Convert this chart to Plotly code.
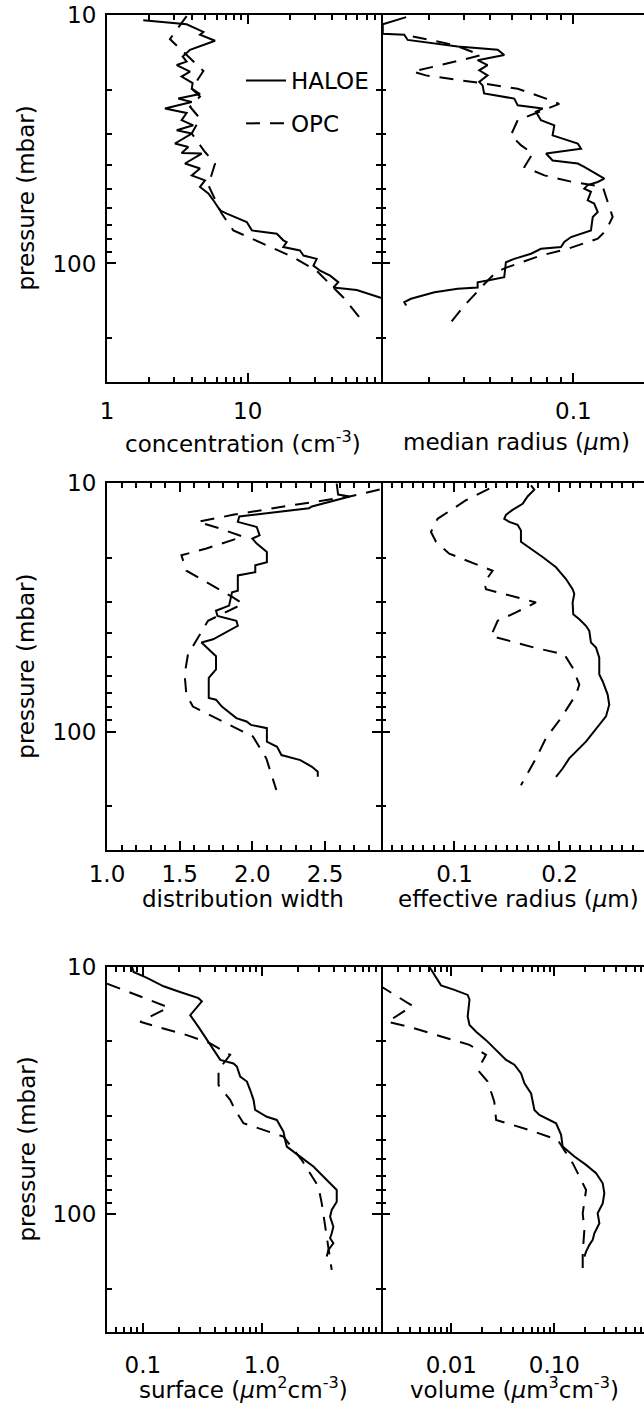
import numpy as np
import plotly.graph_objects as go

# ---------------- data (pressure in mbar) ----------------
conc_haloe_p = [10.5, 10.9, 11.7, 12.0, 12.7, 13.8, 14.7, 15.4, 15.9, 16.9, 17.7, 18.8, 19.8, 20.8, 21.7,
                22.4, 23.8, 24.8, 26.5, 27.8, 29.1, 30.0, 32.9, 34.0, 35.9, 36.1, 39.6, 41.5, 44.2, 46.3,
                49.2, 52.3, 55.7, 61.1, 63.0, 68.1, 73.6, 74.8, 75.9, 80.7, 82.0, 85.9, 88.6, 92.9, 95.8,
                102, 107, 112, 119, 125, 128, 137, 142]
conc_haloe_v = [1.81, 3.68, 4.84, 4.58, 5.86, 3.89, 3.45, 3.68, 3.13, 3.89, 3.39, 4.06, 4.0, 4.58, 3.21,
                4.0, 2.58, 3.68, 3.39, 4.1, 3.13, 4.0, 3.04, 3.78, 3.39, 4.71, 3.58, 4.58, 4.0, 4.97,
                4.58, 5.25, 5.7, 6.35, 7.1, 9.84, 10.7, 13.6, 16.1, 17.9, 18.9, 17.9, 23.5, 24.9, 30.9,
                29.3, 32.7, 38.5, 44.0, 40.6, 59.5, 87.0, 110.0]
conc_opc_p = [10.1, 12.5, 16.8, 19.8, 21.3, 23.4, 26.1, 30.0, 35.6, 39.6, 48.4, 57.4, 63.0, 73.6, 82.0,
              94.4, 107, 125, 137, 172.5]
conc_opc_v = [3.68, 2.80, 4.84, 4.0, 4.58, 3.89, 4.58, 4.0, 4.97, 5.86, 5.25, 6.01, 6.53, 7.9, 12.2,
              21.1, 30.9, 40.6, 47.8, 66.4]

rmed_haloe_p = [10.2, 10.9, 11.9, 12.0, 12.6, 13.4, 13.8, 14.5, 15.2, 15.9, 16.7, 17.5, 18.6, 19.2, 20.7,
                21.7, 23.1, 23.8, 24.5, 26.5, 27.8, 30.5, 32.9, 34.5, 36.1, 38.5, 39.6, 40.9, 45.6, 47.0,
                48.4, 50.0, 51.5, 55.7, 57.4, 62.1, 65.0, 73.6, 78.3, 82.0, 85.9, 87.3, 91.4, 95.8, 98.9,
                113.5, 117, 119, 125, 126.5, 130.5, 138.7, 143.2, 147.6]
rmed_haloe_v = [0.0247, 0.0203, 0.0203, 0.0243, 0.0250, 0.0380, 0.0531, 0.0561, 0.0449, 0.0488, 0.0455,
                0.0488, 0.0455, 0.0468, 0.0474, 0.0610, 0.0628, 0.0774, 0.0731, 0.0763, 0.0853, 0.0841,
                0.1038, 0.1067, 0.0796, 0.0841, 0.1038, 0.1096, 0.1297, 0.1227, 0.1128, 0.1096, 0.1159,
                0.1128, 0.1191, 0.1227, 0.1177, 0.1159, 0.0981, 0.0927, 0.0902, 0.0763, 0.0702, 0.0610,
                0.0569, 0.0561, 0.0488, 0.0449, 0.0449, 0.0380, 0.0313, 0.0257, 0.0243, 0.0247]
rmed_opc_p = [12.2, 13.2, 14.5, 15.2, 16.9, 17.5, 18.8, 19.8, 21.7, 22.8, 26.5, 30.5, 33.4, 36.1, 40.9,
              44.2, 47.0, 49.2, 56.6, 65.0, 73.6, 79.5, 87.3, 92.9, 103.5, 108.4, 119, 147.6, 172.5]
rmed_opc_v = [0.0261, 0.0369, 0.0461, 0.0391, 0.0261, 0.0291, 0.0461, 0.0628, 0.0796, 0.0889, 0.0628,
              0.0593, 0.0645, 0.0712, 0.0664, 0.0785, 0.0995, 0.1280, 0.1334, 0.1390, 0.1315, 0.1227,
              0.0955, 0.0763, 0.0577, 0.0524, 0.0482, 0.0402, 0.0359]

width_haloe_p = [10.0, 11.1, 11.3, 12.4, 12.6, 13.6, 14.3, 15.0, 16.2, 16.7, 17.5, 18.9, 20.8, 21.4, 22.8,
                 23.5, 27.1, 27.5, 31.1, 32.6, 34.2, 35.8, 37.5, 42.5, 43.8, 49.7, 56.2, 60.8, 73.3, 74.4,
                 79.3, 85.6, 88.3, 91.1, 94.0, 96.9, 109.8, 115.2, 120.6, 124.4, 130.3, 138.7, 145.2, 152.1]
width_haloe_v = [2.58, 2.59, 2.67, 2.41, 2.39, 1.91, 1.90, 2.03, 2.05, 2.00, 2.03, 2.10, 2.10, 2.02, 2.02,
                 1.90, 1.90, 1.86, 1.84, 1.75, 1.76, 1.89, 1.90, 1.73, 1.65, 1.75, 1.75, 1.70, 1.70, 1.75,
                 1.79, 1.86, 1.89, 1.96, 1.99, 2.10, 2.10, 2.17, 2.19, 2.20, 2.33, 2.41, 2.45, 2.45]
width_opc_p = [10.6, 11.3, 12.3, 13.4, 14.3, 15.2, 16.4, 18.3, 19.5, 22.5, 28.8, 30.6, 35.8, 48.9, 58.9,
               71.0, 79.3, 89.8, 104.7, 128.3, 150, 172]
width_opc_v = [2.876, 2.669, 2.257, 1.867, 1.626, 1.775, 1.935, 1.684, 1.512, 1.546, 1.867, 1.935, 1.695,
               1.557, 1.534, 1.546, 1.591, 1.775, 2.004, 2.096, 2.131, 2.165]

reff_haloe_p = [10.2, 10.6, 11.3, 12.1, 12.8, 13.4, 13.9, 14.3, 14.7, 15.5, 17.2, 18.1, 19.8, 21.8, 24.3,
                26.7, 27.9, 30.2, 33.7, 35.3, 37.5, 39.3, 43.8, 45.9, 50.4, 58.9, 62.7, 71.0, 78.0, 86.9,
                94.0, 109.8, 128.3, 140.9, 152.1]
reff_haloe_v = [0.1729, 0.1760, 0.1696, 0.1649, 0.1553, 0.1490, 0.1474, 0.1522, 0.1601, 0.1633, 0.1633,
                0.1712, 0.1839, 0.1967, 0.2062, 0.2125, 0.2141, 0.2125, 0.2131, 0.2189, 0.2252, 0.2284,
                0.2300, 0.2348, 0.2379, 0.2379, 0.2411, 0.2459, 0.2474, 0.2443, 0.2379, 0.2252, 0.2093,
                0.2030, 0.1967]
reff_opc_p = [10.5, 11.7, 13.9, 15.7, 17.2, 19.2, 22.5, 25.1, 26.7, 28.8, 30.2, 33.1, 35.8, 41.2, 45.9,
              48.9, 55.3, 64.7, 71.0, 88.3, 106.4, 128.3, 164.4]
reff_opc_v = [0.1331, 0.1110, 0.0839, 0.0776, 0.0824, 0.0950, 0.1363, 0.1284, 0.1300, 0.1601, 0.1776,
              0.1586, 0.1411, 0.1348, 0.1760, 0.2046, 0.2125, 0.2189, 0.2157, 0.2014, 0.1871, 0.1776,
              0.1633]

surf_haloe_p = [10.0, 10.5, 11.1, 12.0, 12.6, 13.4, 13.8, 15.7, 17.5, 19.2, 20.7, 23.1, 23.8, 24.6, 25.3,
                27.8, 29.1, 31.5, 34.5, 37.9, 40.4, 41.6, 46.4, 50.1, 53.3, 58.5, 64.2, 68.3, 75.0, 79.8,
                89.0, 96.1, 102.3, 112.3, 119.4, 125.0, 131.0, 139.4, 148.3]
surf_haloe_v = [0.0811, 0.0836, 0.1083, 0.1493, 0.1995, 0.293, 0.313, 0.250, 0.293, 0.334, 0.368, 0.432,
                0.447, 0.577, 0.616, 0.657, 0.748, 0.797, 0.850, 0.877, 1.099, 1.334, 1.516, 1.566, 1.617,
                2.093, 2.706, 3.079, 3.735, 4.249, 4.249, 3.856, 3.735, 3.980, 3.856, 3.735, 3.980, 3.615,
                3.505]
surf_opc_p = [11.7, 13.6, 14.6, 16.7, 18.9, 20.4, 22.7, 26.1, 30.1, 34.5, 37.9, 42.9, 48.6, 60.4, 77.4,
              90.4, 105.5, 139.4, 168]
surf_opc_v = [0.050, 0.1153, 0.1643, 0.095, 0.2343, 0.368, 0.541, 0.432, 0.432, 0.541, 0.596, 0.700,
              1.516, 2.163, 2.98, 3.18, 3.33, 3.615, 3.856]

vol_haloe_p = [10.0, 11.0, 11.9, 12.4, 13.0, 13.6, 15.9, 17.2, 18.3, 19.8, 21.7, 23.8, 24.9, 27.0, 29.6,
               32.5, 37.9, 39.7, 42.9, 47.8, 53.3, 58.5, 63.2, 68.3, 75.0, 82.2, 90.4, 99.1, 108.8, 119.4,
               127.0, 133.0, 141.6, 148.3]
vol_haloe_v = [0.00611, 0.0071, 0.00794, 0.0107, 0.0144, 0.0150, 0.0144, 0.0150, 0.0174, 0.0217, 0.0272,
               0.0340, 0.0409, 0.0475, 0.0512, 0.0594, 0.0640, 0.0715, 0.1039, 0.1162, 0.1204, 0.1564,
               0.2031, 0.2540, 0.2946, 0.3055, 0.2946, 0.2630, 0.2735, 0.2445, 0.2355, 0.2187, 0.2031,
               0.1955]
vol_opc_p = [11.9, 14.4, 16.7, 17.5, 20.7, 22.7, 26.1, 29.1, 35.1, 41.6, 45.7, 50.1, 62.2, 79.8, 99.1,
             115.6, 143.6, 168]
vol_opc_v = [0.0020, 0.0042, 0.0024, 0.0039, 0.0150, 0.0217, 0.0180, 0.0225, 0.0261, 0.0272, 0.0571,
             0.1077, 0.1507, 0.2031, 0.1884, 0.1955, 0.1884, 0.1884]

series_names = ["HALOE", "OPC"]

# ---------------- figure ----------------
W, H = 644, 1404
FONT = "DejaVu Sans"
fig = go.Figure()

panels = [
    (conc_haloe_v, conc_haloe_p, conc_opc_v, conc_opc_p),
    (rmed_haloe_v, rmed_haloe_p, rmed_opc_v, rmed_opc_p),
    (width_haloe_v, width_haloe_p, width_opc_v, width_opc_p),
    (reff_haloe_v, reff_haloe_p, reff_opc_v, reff_opc_p),
    (surf_haloe_v, surf_haloe_p, surf_opc_v, surf_opc_p),
    (vol_haloe_v, vol_haloe_p, vol_opc_v, vol_opc_p),
]
for i, (hv, hp, ov, op) in enumerate(panels):
    sfx = "" if i == 0 else str(i + 1)
    fig.add_trace(go.Scatter(x=hv, y=hp, mode="lines", name=series_names[0],
                             line=dict(color="black", width=2), legendgroup="h",
                             showlegend=(i == 0), xaxis="x" + sfx, yaxis="y" + sfx))
    fig.add_trace(go.Scatter(x=ov, y=op, mode="lines", name=series_names[1],
                             line=dict(color="black", width=2, dash="14px,10px"), legendgroup="o",
                             showlegend=(i == 0), xaxis="x" + sfx, yaxis="y" + sfx))


def px_x(v):
    return v / W


def px_y(v):
    return 1 - v / H


col_dom = [[px_x(107), px_x(381)], [px_x(381), 1.0]]
row_dom = [[px_y(382), px_y(15)], [px_y(850), px_y(483.3)], [px_y(1332.3), px_y(966.7)]]

tickfont = dict(family=FONT, size=23, color="black")


def minors(mults, exps):
    return [m * 10.0 ** e for e in exps for m in mults]


common = dict(linewidth=2, linecolor="black", ticks="inside", ticklen=9,
              tickwidth=1.5, tickcolor="black", showgrid=False, zeroline=False, tickfont=tickfont,
              automargin=False)

xaxes = [
    dict(type="log", range=[0, 1.947], tickvals=[1, 10], ticktext=["1", "10"],
         minorvals=minors(range(2, 10), [0, 1]), standoff=7),
    dict(type="log", range=[np.log10(0.02), -0.743], tickvals=[0.1], ticktext=["0.1"],
         minorvals=minors(range(2, 10), [-2, -1]), standoff=7),
    dict(type="linear", range=[1.0, 2.885], tickvals=[1.0, 1.5, 2.0, 2.5],
         ticktext=["1.0", "1.5", "2.0", "2.5"],
         minorvals=[round(1.0 + 0.1 * k, 2) for k in range(20)], standoff=2),
    dict(type="linear", range=[0.03, 0.2805], tickvals=[0.1, 0.2], ticktext=["0.1", "0.2"],
         minorvals=[round(0.01 * k, 2) for k in range(3, 29)], standoff=2),
    dict(type="log", range=[np.log10(0.05), 1.0], tickvals=[0.1, 1.0], ticktext=["0.1", "1.0"],
         minorvals=minors(range(2, 10), [-2, -1, 0]), standoff=11),
    dict(type="log", range=[-2.683, -0.130], tickvals=[0.01, 0.1], ticktext=["0.01", "0.10"],
         minorvals=minors(range(2, 10), [-3, -2, -1]), standoff=11),
]

layout = dict(width=W, height=H, margin=dict(l=0, r=0, t=0, b=0, autoexpand=False),
              paper_bgcolor="white", plot_bgcolor="white", showlegend=True,
              legend=dict(x=px_x(241), y=px_y(59), xanchor="left", yanchor="top",
                          bgcolor="rgba(0,0,0,0)", font=dict(family=FONT, size=23, color="black"),
                          tracegroupgap=10, itemwidth=40))

for i in range(6):
    r, c = divmod(i, 2)
    sfx = "" if i == 0 else str(i + 1)
    xa = xaxes[i]
    layout["xaxis" + sfx] = dict(
        common, showline=True, type=xa["type"], range=xa["range"], domain=col_dom[c],
        anchor="y" + sfx, mirror="ticks", tickmode="array", tickvals=xa["tickvals"],
        ticktext=xa["ticktext"], ticklabelstandoff=xa["standoff"],
        minor=dict(tickmode="array", tickvals=xa["minorvals"], ticks="inside", ticklen=5,
                   tickwidth=1.5, tickcolor="black", showgrid=False))
    layout["yaxis" + sfx] = dict(
        common, showline=(c == 0), type="log", range=[np.log10(300), 1], domain=row_dom[r],
        anchor="x" + sfx, mirror=("ticks" if c == 0 else False), tickmode="array",
        tickvals=[10, 100], ticktext=["10", "100"], showticklabels=(c == 0),
        ticklabelstandoff=4,
        minor=dict(tickmode="array", tickvals=minors(range(2, 10), [1]) + [200],
                   ticks="inside", ticklen=5, tickwidth=1.5, tickcolor="black", showgrid=False))

titles = [
    ("concentration (cm<sup>-3</sup>)", 243, 442),
    ("median radius (<i>µ</i>m)", 516, 442),
    ("distribution width", 243, 899),
    ("effective radius (<i>µ</i>m)", 518, 899),
    ("surface (<i>µ</i>m<sup>2</sup>cm<sup>-3</sup>)", 243, 1388),
    ("volume (<i>µ</i>m<sup>3</sup>cm<sup>-3</sup>)", 514, 1388),
]
ann = []
for txt, x, y in titles:
    ann.append(dict(text=txt, x=px_x(x), y=px_y(y), xref="paper", yref="paper",
                    xanchor="center", yanchor="middle", showarrow=False,
                    font=dict(family=FONT, size=23, color="black")))
for yc in [198.5, 666.7, 1149.5]:
    ann.append(dict(text="pressure (mbar)", x=px_x(26), y=px_y(yc), xref="paper", yref="paper",
                    xanchor="center", yanchor="middle", textangle=-90, showarrow=False,
                    font=dict(family=FONT, size=23, color="black")))
layout["annotations"] = ann

fig.update_layout(**layout)
fig.write_html("out.html")
